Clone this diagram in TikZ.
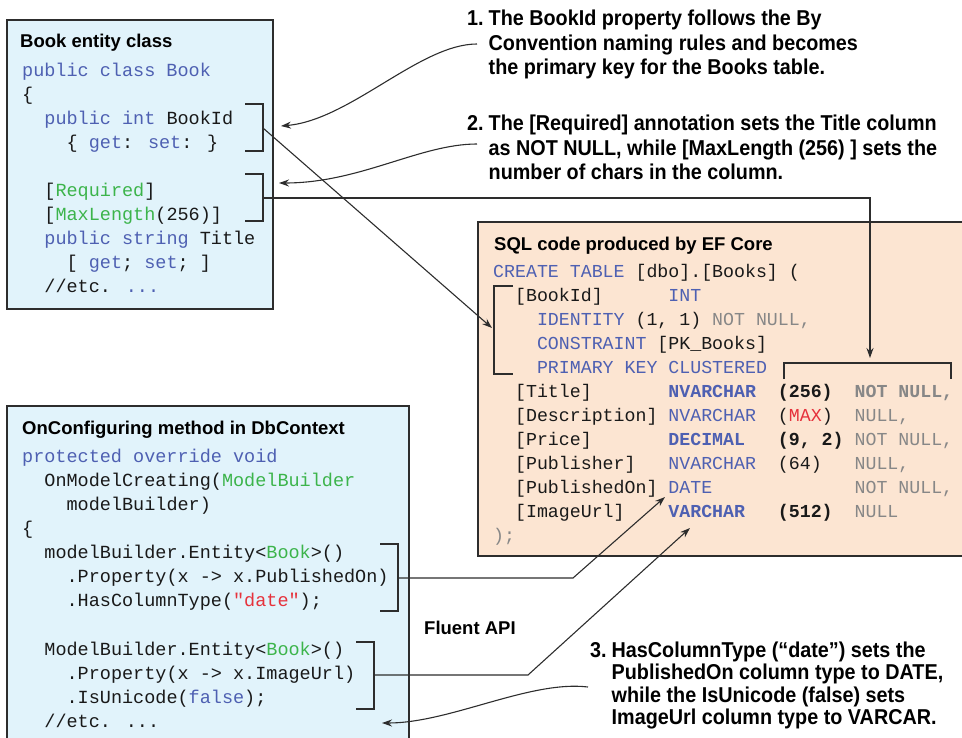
\documentclass[tikz,border=0pt]{standalone}
\usepackage{fontspec}
\setmainfont{Liberation Sans}
\newfontfamily\codefont{Liberation Mono}
\newfontfamily\notefont[FakeStretch=0.92]{Liberation Sans}
\usetikzlibrary{arrows.meta}

\definecolor{kwblue}{RGB}{78,96,178}
\definecolor{tygreen}{RGB}{60,180,75}
\definecolor{strred}{RGB}{230,50,60}
\definecolor{nullgray}{RGB}{135,135,135}
\definecolor{codeblack}{RGB}{25,25,25}
\definecolor{boxblue}{RGB}{225,243,251}
\definecolor{boxpeach}{RGB}{252,229,210}
\definecolor{linegray}{RGB}{45,45,45}

\newcommand\kwd[1]{\textcolor{kwblue}{#1}}
\newcommand\tyn[1]{\textcolor{tygreen}{#1}}
\newcommand\srd[1]{\textcolor{strred}{#1}}
\newcommand\ngr[1]{\textcolor{nullgray}{#1}}

\begin{document}
\begin{tikzpicture}[x=1pt,y=-1pt,
  code/.style={font=\codefont\fontsize{18.5}{24}\selectfont,anchor=base west,inner sep=0pt,text=codeblack},
  sql/.style={code,font=\codefont\fontsize{18.25}{24}\selectfont},
  head/.style={font=\bfseries\fontsize{18.5}{22}\selectfont,anchor=base west,inner sep=0pt},
  note/.style={font=\notefont\bfseries\fontsize{21.5}{24.5}\selectfont,anchor=base west,inner sep=0pt},
  panel/.style={draw=linegray,line width=1.2pt},
  brk/.style={draw=linegray,line width=1.3pt},
  link/.style={draw=linegray,line width=1.1pt},
  tip/.style={-{Stealth[length=10pt,width=7pt]}}
]
  \useasboundingbox (0,0) rectangle (962,738);

  % panels
  \draw[panel,fill=boxblue] (7,20) rectangle (273,309);
  \draw[panel,fill=boxpeach] (478,222) rectangle (980,556);
  \draw[panel,fill=boxblue] (7,406) rectangle (409,760);

  % Book entity class
  \node[head] (bookhd) at (20,48) {Book entity class};
  \node[code] (bk1) at (22,76.5) {\kwd{public class Book}};
  \node[code] (bk2) at (22,100.5) {\{};
  \node[code] (bk3) at (22,124.5) {~~\kwd{public int} BookId};
  \node[code] (bk4) at (22,148.5) {~~~~\{ \kwd{get}: \kwd{set}: \}};
  \node[code] (bk5) at (22,196.5) {~~[\tyn{Required}]};
  \node[code] (bk6) at (22,220.5) {~~[\tyn{MaxLength}(256)]};
  \node[code] (bk7) at (22,244.5) {~~\kwd{public string} Title};
  \node[code] (bk8) at (22,268.5) {~~~~[ \kwd{get}; \kwd{set}; ]};
  \node[code] (bk9) at (22,292.5) {~~//etc. \kwd{...}};

  % SQL code
  \node[head] (sqlhd) at (494,250.5) {SQL code produced by EF Core};
  \node[sql] (sq1) at (493,277.7) {\kwd{CREATE TABLE} [dbo].[Books] (};
  \node[sql] (sq2) at (493,301.7) {~~[BookId]~~~~~~\kwd{INT}};
  \node[sql] (sq3) at (493,325.7) {~~~~\kwd{IDENTITY}~(1,~1)~\ngr{NOT~NULL,}};
  \node[sql] (sq4) at (493,349.7) {~~~~\kwd{CONSTRAINT}~[PK\_Books]};
  \node[sql] (sq5) at (493,373.7) {~~~~\kwd{PRIMARY~KEY~CLUSTERED}};
  \node[sql] (sq6) at (493,397.7) {~~[Title]~~~~~~~\textbf{\kwd{NVARCHAR}~~(256)~~\ngr{NOT~NULL,}}};
  \node[sql] (sq7) at (493,421.7) {~~[Description]~\kwd{NVARCHAR}~~(\srd{MAX})~~\ngr{NULL,}};
  \node[sql] (sq8) at (493,445.7) {~~[Price]~~~~~~~\textbf{\kwd{DECIMAL}~~~(9,~2)}~\ngr{NOT~NULL,}};
  \node[sql] (sq9) at (493,469.7) {~~[Publisher]~~~\kwd{NVARCHAR}~~(64)~~~\ngr{NULL,}};
  \node[sql] (sq10) at (493,493.7) {~~[PublishedOn]~\kwd{DATE}~~~~~~~~~~~~~\ngr{NOT~NULL,}};
  \node[sql] (sq11) at (493,517.7) {~~[ImageUrl]~~~~\textbf{\kwd{VARCHAR}~~~(512)}~~\ngr{NULL}};
  \node[sql] (sq12) at (493,541.7) {\ngr{);}};

  % OnConfiguring method
  \node[head] (ctxhd) at (22,434) {OnConfiguring method in DbContext};
  \node[code] (cx1) at (22,462.3) {\kwd{protected override void}};
  \node[code] (cx2) at (22,486.4) {~~OnModelCreating(\tyn{ModelBuilder}};
  \node[code] (cx3) at (22,510.5) {~~~~modelBuilder)};
  \node[code] (cx4) at (22,534.6) {\{};
  \node[code] (cx5) at (22,558.7) {~~modelBuilder.Entity<\tyn{Book}>()};
  \node[code] (cx6) at (22,582.8) {~~~~.Property(x -> x.PublishedOn)};
  \node[code] (cx7) at (22,606.9) {~~~~.HasColumnType(\srd{"date"});};
  \node[code] (cx8) at (22,655.1) {~~ModelBuilder.Entity<\tyn{Book}>()};
  \node[code] (cx9) at (22,679.2) {~~~~.Property(x -> x.ImageUrl)};
  \node[code] (cx10) at (22,703.3) {~~~~.IsUnicode(\kwd{false});};
  \node[code] (cx11) at (22,727.4) {~~//etc. ...};

  \node[head] (fluent) at (424,634.6) {Fluent API};

  % notes
  \node[note] (note1) at (467,26) {\begin{tabular}[t]{@{}l@{\hspace{5pt}}l@{}}
    1.&The BookId property follows the By\\
    &Convention naming rules and becomes\\
    &the primary key for the Books table.\end{tabular}};
  \node[note] (note2) at (467,131) {\begin{tabular}[t]{@{}l@{\hspace{5pt}}l@{}}
    2.&The [Required] annotation sets the Title column\\
    &as NOT NULL, while [MaxLength (256) ] sets the\\
    &number of chars in the column.\end{tabular}};
  \node[note,font=\notefont\bfseries\fontsize{21.5}{22.5}\selectfont] (note3) at (590,657) {\begin{tabular}[t]{@{}l@{\hspace{5pt}}l@{}}
    3.&HasColumnType (“date”) sets the\\
    &PublishedOn column type to DATE,\\
    &while the IsUnicode (false) sets\\
    &ImageUrl column type to VARCAR.\end{tabular}};

  % brackets
  \draw[brk] (245,104) -- (263,104) -- (263,151) -- (245,151);
  \draw[brk] (245,174) -- (263,174) -- (263,221) -- (245,221);
  \draw[brk] (513,286) -- (494,286) -- (494,374) -- (513,374);
  \draw[brk] (784,379) -- (784,363) -- (951,363) -- (951,379);
  \draw[brk] (380,544) -- (398,544) -- (398,611) -- (380,611);
  \draw[brk] (356,642) -- (374,642) -- (374,709) -- (356,709);

  % connectors
  \coordinate (idout) at (263,128);
  \coordinate (idin) at (492,328);
  \coordinate (reqout) at (263,198);
  \coordinate (reqin) at (870,358);
  \coordinate (pubout) at (398,578);
  \coordinate (pubbend) at (573,578);
  \coordinate (pubin) at (665,497);
  \coordinate (imgout) at (374,675);
  \coordinate (imgbend) at (528,675);
  \coordinate (imgin) at (690,528);
  \draw[link,tip] (idout) -- (idin);
  \draw[link,tip] (reqout) -| (reqin);
  \draw[link,tip] (pubout) -- (pubbend) -- (pubin);
  \draw[link,tip] (imgout) -- (imgbend) -- (imgin);

  % note callouts
  \coordinate (n1from) at (477,44);
  \coordinate (n1to) at (281,126);
  \coordinate (n2from) at (477,144);
  \coordinate (n2to) at (279,183);
  \coordinate (n3from) at (588,687);
  \coordinate (n3to) at (382,723);
  \draw[link,tip] (n1from) .. controls (420,44) and (350,120) .. (n1to);
  \draw[link,tip] (n2from) .. controls (420,144) and (360,183) .. (n2to);
  \draw[link,tip] (n3from) .. controls (530,680) and (450,723) .. (n3to);
\end{tikzpicture}
\end{document}
